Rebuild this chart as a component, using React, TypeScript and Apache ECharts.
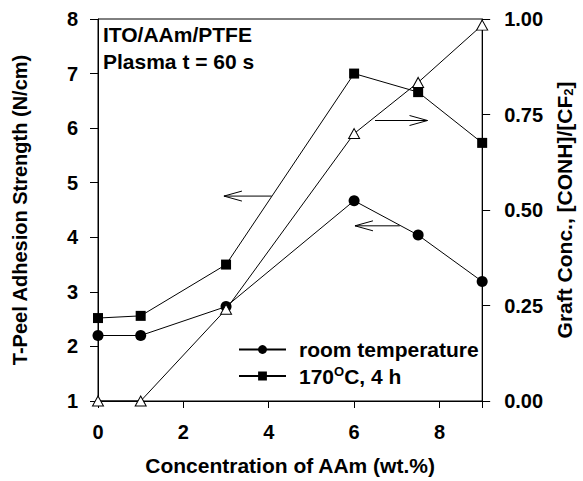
import React, { useEffect, useRef } from "react";
import * as echarts from "echarts";

const concentrations = [0, 1, 3, 6, 7.5, 9];
const roomTemperature = [2.2, 2.2, 2.73, 4.67, 4.04, 3.19];
const heated170 = [2.52, 2.56, 3.5, 7.0, 6.66, 5.73];
const graftConc = [0.0, 0.0, 0.24, 0.7, 0.834, 0.984];

const leftTicks = [1, 2, 3, 4, 5, 6, 7, 8];
const rightTicks = [0, 0.25, 0.5, 0.75, 1.0];
const xTicks = [0, 2, 4, 6, 8];

// arrows in data coords (x1, y1 -> x2, y2) on the left axis, head at the end
const arrows = [
  [4.07, 4.755, 2.95, 4.755],
  [7.07, 4.21, 6.02, 4.21],
  [6.49, 6.14, 7.72, 6.14],
];

const roomName = "room temperature";
const heatedName = "170°C, 4 h";
const FONT = "'Liberation Sans', Arial, Helvetica, sans-serif";

export default function App() {
  const ref = useRef<HTMLDivElement>(null);
  useEffect(() => {
    if (!ref.current) return;
    const chart = echarts.init(ref.current, null, { renderer: "svg" });
    const zip = (ys: number[]) => concentrations.map((x, i) => [x, ys[i]]);
    const lineStyle = { color: "#000", width: 1 };
    chart.setOption({
      animation: false,
      backgroundColor: "#fff",
      textStyle: { fontFamily: FONT },
      grid: { left: 98, right: 97, top: 19, bottom: 78, show: true, borderColor: "#000", borderWidth: 1, backgroundColor: "transparent" },
      legend: {
        orient: "vertical",
        left: 233,
        top: 334,
        itemWidth: 47,
        itemHeight: 11,
        itemGap: 5,
        data: [roomName, heatedName],
        formatter: (n: string) => (n === heatedName ? "{t|170}{sup|O}{t|C, 4 h}" : "{t|" + n + "}"),
        textStyle: {
          color: "#000",
          fontSize: 21,
          fontWeight: "bold",
          fontFamily: FONT,
          rich: {
            t: { fontSize: 21, fontWeight: "bold", fontFamily: FONT, color: "#000", lineHeight: 22 },
            sup: { fontSize: 13, fontWeight: "bold", fontFamily: FONT, color: "#000", lineHeight: 13, verticalAlign: "top", padding: [0, 0, 10, 0] },
          },
          padding: [0, 0, 0, 8],
        },
      },
      xAxis: {
        type: "value",
        min: 0,
        max: 9,
        interval: 2,
        name: "Concentration of AAm (wt.%)",
        nameLocation: "middle",
        nameGap: 54,
        nameTextStyle: { fontSize: 21, fontWeight: "bold", color: "#000", fontFamily: FONT },
        axisLine: { lineStyle: { color: "#000", width: 1 } },
        axisTick: { inside: false, length: 7, lineStyle: { color: "#000" } },
        axisLabel: {
          margin: 21,
          fontSize: 20,
          fontWeight: "bold",
          color: "#000",
          fontFamily: FONT,
          formatter: (v: number) => (xTicks.includes(v) ? String(v) : ""),
        },
        splitLine: { show: false },
      },
      yAxis: [
        {
          type: "value",
          min: 1,
          max: 8,
          interval: 1,
          position: "left",
          name: "T-Peel Adhesion Strength (N/cm)",
          nameLocation: "middle",
          nameGap: 68,
          nameTextStyle: { fontSize: 20, fontWeight: "bold", color: "#000", fontFamily: FONT },
          axisLine: { show: true, lineStyle: { color: "#000", width: 1 } },
          axisTick: { inside: false, length: 8, lineStyle: { color: "#000" } },
          axisLabel: {
            margin: 20,
            fontSize: 20,
            fontWeight: "bold",
            color: "#000",
            fontFamily: FONT,
            formatter: (v: number) => (leftTicks.includes(v) ? String(v) : ""),
          },
          splitLine: { show: false },
        },
        {
          type: "value",
          min: 0,
          max: 1,
          interval: 0.25,
          position: "right",
          name: "Graft Conc., [CONH]/[CF{sub|2}]",
          nameLocation: "middle",
          nameGap: 71,
          nameTextStyle: {
            fontSize: 21,
            fontWeight: "bold",
            color: "#000",
            fontFamily: FONT,
            rich: {
              sub: { fontSize: 13, fontWeight: "bold", color: "#000", fontFamily: FONT, verticalAlign: "bottom", padding: [8, 0, 0, 0] },
            },
          },
          axisLine: { show: true, lineStyle: { color: "#000", width: 1 } },
          axisTick: { inside: false, length: 8, lineStyle: { color: "#000" } },
          axisLabel: {
            margin: 22,
            fontSize: 20,
            fontWeight: "bold",
            color: "#000",
            fontFamily: FONT,
            formatter: (v: number) => (rightTicks.includes(v) ? v.toFixed(2) : ""),
          },
          splitLine: { show: false },
        },
      ],
      graphic: [
        { type: "text", left: 103, top: 24, style: { text: "ITO/AAm/PTFE", font: `bold 21px ${FONT}`, fill: "#000" } },
        { type: "text", left: 103, top: 51, style: { text: "Plasma t = 60 s", font: `bold 21px ${FONT}`, fill: "#000" } },
      ],
      series: [
        {
          name: roomName,
          type: "line",
          yAxisIndex: 0,
          data: zip(roomTemperature),
          symbol: "circle",
          symbolSize: 11,
          itemStyle: { color: "#000" },
          lineStyle,
          z: 3,
        },
        {
          name: heatedName,
          type: "line",
          yAxisIndex: 0,
          data: zip(heated170),
          symbol: "rect",
          symbolSize: 10,
          itemStyle: { color: "#000" },
          lineStyle,
          z: 3,
        },
        {
          name: "graft",
          type: "line",
          yAxisIndex: 1,
          data: zip(graftConc),
          symbol: "triangle",
          symbolSize: [11, 10],
          itemStyle: { color: "#fff", borderColor: "#000", borderWidth: 1 },
          lineStyle,
          z: 4,
        },
        {
          name: "arrows",
          type: "custom",
          yAxisIndex: 0,
          data: arrows,
          encode: { x: [0, 2], y: [1, 3] },
          silent: true,
          z: 2,
          renderItem: (_p: any, api: any) => {
            const a = api.coord([api.value(0), api.value(1)]);
            const b = api.coord([api.value(2), api.value(3)]);
            const dx = b[0] - a[0];
            const dy = b[1] - a[1];
            const len = Math.hypot(dx, dy) || 1;
            const ux = dx / len;
            const uy = dy / len;
            const hl = 18;
            const hw = 5;
            const hx = b[0] - ux * hl;
            const hy = b[1] - uy * hl;
            const st = { stroke: "#000", lineWidth: 1, fill: "none" };
            return {
              type: "group",
              children: [
                { type: "line", shape: { x1: a[0], y1: a[1], x2: b[0], y2: b[1] }, style: st },
                { type: "line", shape: { x1: b[0], y1: b[1], x2: hx - uy * hw, y2: hy + ux * hw }, style: st },
                { type: "line", shape: { x1: b[0], y1: b[1], x2: hx + uy * hw, y2: hy - ux * hw }, style: st },
              ],
            };
          },
        },
      ],
    });
    return () => chart.dispose();
  }, []);
  return <div ref={ref} style={{ width: 583, height: 481, position: "absolute", left: 0, top: 0 }} />;
}
